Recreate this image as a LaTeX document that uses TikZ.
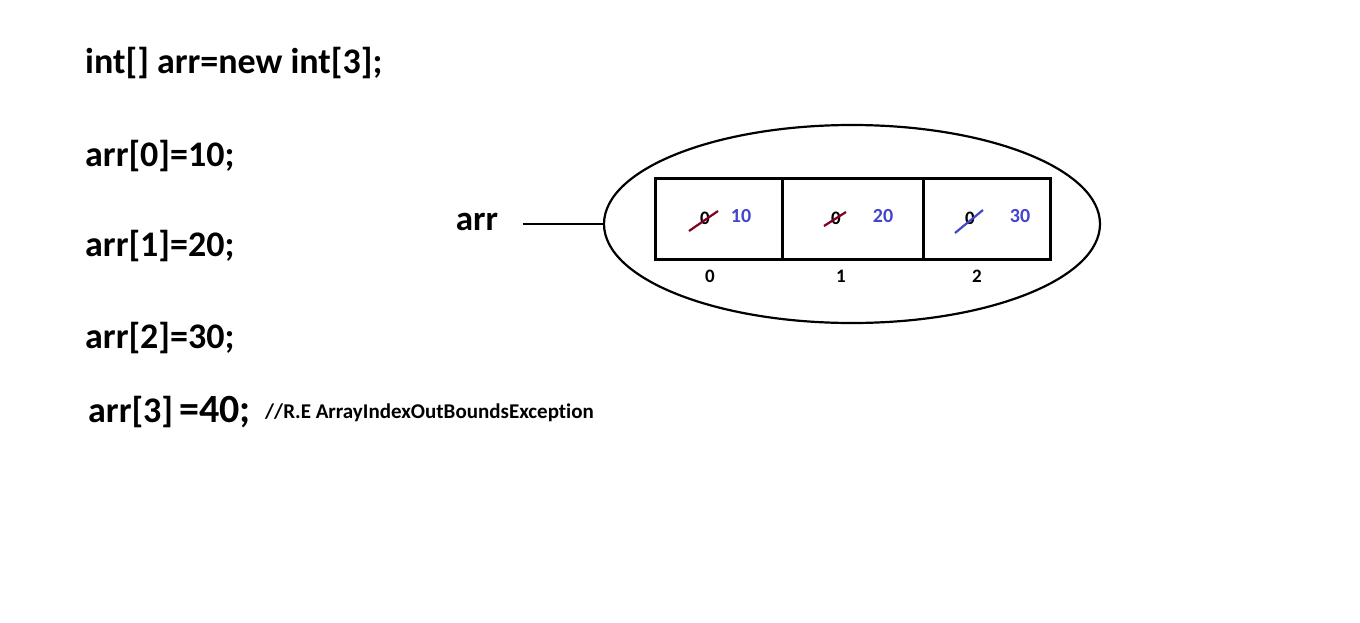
\documentclass[tikz,border=0pt]{standalone}
\usepackage{fontspec}
\setmainfont{Carlito}[Ligatures=NoCommon]
\usetikzlibrary{shapes.geometric}
\definecolor{valblue}{RGB}{68,68,204}
\definecolor{strikered}{RGB}{128,0,32}
\begin{document}
\begin{tikzpicture}[x=1pt, y=-1pt,
    code/.style={anchor=west, inner sep=0pt, font=\bfseries\fontsize{36}{42}\selectfont},
    cell/.style={draw, line width=3pt, minimum height=81pt, inner sep=0pt},
    idx/.style={font=\bfseries\fontsize{19}{23}\selectfont},
    old/.style={font=\bfseries\fontsize{19}{23}\selectfont},
    val/.style={font=\bfseries\fontsize{20}{24}\selectfont, text=valblue}]
    \useasboundingbox (0,0) rectangle (1360,623);

    % code on the left
    \node[code] (decl) at (85,63) {int[] arr=new int[3];};
    \node[code] (set0) at (85,156) {arr[0]=10;};
    \node[code] (set1) at (85,246) {arr[1]=20;};
    \node[code] (set2) at (85,338) {arr[2]=30;};
    \node[code] (set3) at (88,412) {arr[3]\,{\fontsize{40}{46}\selectfont=40;}};
    \node[anchor=west, inner sep=0pt, font=\bfseries\fontsize{21}{25}\selectfont] (err) at (265,413) {//R.E ArrayIndexOutBoundsException};

    % the array object
    \node[draw, ellipse, line width=2.2pt, minimum width=496pt, minimum height=198pt] (heap) at (852,224) {};
    \node[cell, minimum width=127pt] (c0) at (718.5,218.5) {};
    \node[cell, minimum width=141pt] (c1) at (852.5,218.5) {};
    \node[cell, minimum width=127pt] (c2) at (986.5,218.5) {};

    \node[idx] (i0) at (710,276) {0};
    \node[idx] (i1) at (841,276) {1};
    \node[idx] (i2) at (977,276) {2};

    \node[old] (o0) at (705,218) {0};
    \node[old] (o1) at (836,218) {0};
    \node[old] (o2) at (970,218) {0};
    \node[val] (v0) at (741,216) {10};
    \node[val] (v1) at (883,216) {20};
    \node[val] (v2) at (1020,216) {30};

    \draw[strikered, line width=2.2pt] ([shift={(-16,13)}]o0.center) -- ([shift={(13,-7)}]o0.center);
    \draw[strikered, line width=2.2pt] ([shift={(-12,8)}]o1.center) -- ([shift={(10,-6)}]o1.center);
    \draw[valblue, line width=2.2pt] ([shift={(-15,15)}]o2.center) -- ([shift={(13,-8)}]o2.center);

    % reference
    \node[font=\bfseries\fontsize{35}{40}\selectfont] (ref) at (477,222) {arr};
    \draw[line width=2.5pt] ([xshift=21pt]ref.east |- heap.west) -- (heap.west);
\end{tikzpicture}
\end{document}
